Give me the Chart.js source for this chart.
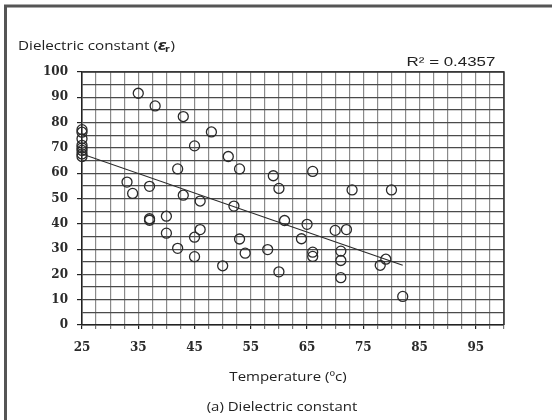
<!DOCTYPE html>
<html>
<head>
<meta charset="utf-8">
<script src="https://cdn.jsdelivr.net/npm/chart.js@4.4.1/dist/chart.umd.min.js"></script>
<style>
  html, body { margin: 0; padding: 0; background: #fff; }
  #wrap { width: 552px; height: 420px; position: relative; }
</style>
</head>
<body>
<div id="wrap"><canvas id="c" width="552" height="420"></canvas></div>
<script>
// Measured samples: temperature (°C) and dielectric constant
const temperature = [25, 25, 25, 25, 25, 25, 25, 25,
  33, 34, 35, 37, 37, 37, 38, 40, 40, 42, 42, 43, 43, 45, 45, 45, 46, 46,
  48, 50, 51, 52, 53, 53, 54, 58, 59, 60, 60, 61, 64, 65, 66, 66, 66,
  70, 71, 71, 71, 72, 73, 78, 79, 80, 82];
const dielectric = [77.2, 76.2, 73.6, 71.0, 70.0, 69.0, 67.6, 66.6,
  56.5, 52.0, 91.6, 54.8, 42.0, 41.4, 86.6, 43.0, 36.3, 61.7, 30.3, 82.4, 51.3, 70.8, 34.7, 27.0, 49.0, 37.7,
  76.3, 23.4, 66.6, 47.0, 61.7, 34.0, 28.4, 29.8, 59.0, 54.0, 21.0, 41.3, 34.1, 39.8, 60.7, 28.8, 27.1,
  37.4, 29.2, 25.5, 18.7, 37.7, 53.4, 23.6, 26.0, 53.4, 11.3];

// Linear trend line end points
const trendX = [25, 82];
const trendY = [67.6, 23.6];

// Axis tick settings
const xTickLabels = [25, 35, 45, 55, 65, 75, 85, 95];
const yTickLabels = [0, 10, 20, 30, 40, 50, 60, 70, 80, 90, 100];

const points = temperature.map((t, i) => ({ x: t, y: dielectric[i] }));
const trend = trendX.map((t, i) => ({ x: t, y: trendY[i] }));

// draw text with a horizontal stretch factor
function wideText(ctx, str, x, y, sx, align) {
  ctx.save();
  ctx.translate(x, y);
  ctx.scale(sx, 1);
  ctx.textAlign = align;
  ctx.fillText(str, 0, 0);
  ctx.restore();
}

const frameAndText = {
  id: 'frameAndText',
  beforeDraw(chart) {
    const ctx = chart.ctx;
    ctx.save();
    ctx.fillStyle = '#fff';
    ctx.fillRect(0, 0, chart.width, chart.height);
    ctx.restore();
  },
  afterDraw(chart) {
    const ctx = chart.ctx;
    const a = chart.chartArea;
    ctx.save();
    // outer frame (left and top edges)
    ctx.strokeStyle = '#555';
    ctx.lineWidth = 3;
    ctx.beginPath();
    ctx.moveTo(5.5, 420);
    ctx.lineTo(5.5, 6);
    ctx.lineTo(552, 6);
    ctx.stroke();
    // plot border top and right
    ctx.strokeStyle = '#333';
    ctx.lineWidth = 1.5;
    ctx.beginPath();
    ctx.moveTo(a.left, a.top);
    ctx.lineTo(a.right, a.top);
    ctx.lineTo(a.right, a.bottom);
    ctx.stroke();

    ctx.fillStyle = '#222';
    ctx.textBaseline = 'middle';
    const sx = 1.17;
    ctx.font = '13px "Open Sans"';
    const t1 = 'Dielectric constant (';
    wideText(ctx, t1, 18, 46, sx, 'left');
    let x = 18 + ctx.measureText(t1).width * sx;
    ctx.font = 'bold italic 14px "DejaVu Sans"';
    wideText(ctx, 'ε', x, 46, sx, 'left');
    x += ctx.measureText('ε').width * sx;
    ctx.font = 'bold 8px "DejaVu Sans"';
    wideText(ctx, 'r', x - 2, 50, sx, 'left');
    x += ctx.measureText('r').width * sx - 1;
    ctx.font = '13px "Open Sans"';
    wideText(ctx, ')', x, 46, sx, 'left');

    ctx.font = '13px "Liberation Sans"';
    wideText(ctx, 'R² = 0.4357', 451, 62, 1.3, 'center');

    ctx.font = '12.5px "Open Sans"';
    wideText(ctx, 'Temperature (ºc)', 288, 377, 1.2, 'center');
    wideText(ctx, '(a) Dielectric constant', 282, 407, 1.2, 'center');
    ctx.restore();
  }
};

new Chart(document.getElementById('c'), {
  type: 'scatter',
  data: {
    datasets: [
      {
        label: 'Dielectric constant',
        data: points,
        clip: false,
        pointStyle: 'circle',
        pointRadius: 5,
        pointHoverRadius: 5,
        backgroundColor: 'rgba(0,0,0,0)',
        borderColor: '#2a2a2a',
        borderWidth: 1.3
      },
      {
        type: 'line',
        label: 'Trend',
        data: trend,
        borderColor: '#2a2a2a',
        borderWidth: 1.2,
        pointRadius: 0,
        fill: false
      }
    ]
  },
  options: {
    responsive: false,
    animation: false,
    events: [],
    layout: { padding: { left: 0, top: 72, right: 48, bottom: 0 } },
    plugins: { legend: { display: false }, tooltip: { enabled: false }, title: { display: false } },
    scales: {
      x: {
        type: 'linear',
        min: 25, max: 100,
        afterFit(s) { s.height = 95; },
        afterBuildTicks(s) {
          const t = [];
          for (let v = 25; v <= 100; v += 2.5) t.push({ value: v });
          s.ticks = t;
        },
        ticks: {
          autoSkip: false,
          maxRotation: 0,
          padding: 12,
          color: '#2a2a2a',
          font: { family: '"DejaVu Serif"', size: 12, weight: 'bold' },
          callback: v => (xTickLabels.includes(v) ? String(v) : '')
        },
        grid: {
          color: ctx => (ctx.tick && ctx.tick.value === 25 ? '#222' : '#8a8a8a'),
          lineWidth: 1.2,
          tickLength: 4,
          tickColor: ctx => (ctx.tick && xTickLabels.includes(ctx.tick.value) ? '#222' : '#777')
        },
        border: { color: '#222', width: 1.5 }
      },
      y: {
        min: 0, max: 100,
        afterFit(s) { s.width = 82; },
        ticks: {
          stepSize: 5,
          autoSkip: false,
          padding: 9,
          color: '#2a2a2a',
          font: { family: '"DejaVu Serif"', size: 12, weight: 'bold' },
          callback: v => (yTickLabels.includes(v) ? String(v) : '')
        },
        grid: {
          color: '#4a4a4a',
          lineWidth: 1.2,
          tickLength: 5,
          tickColor: ctx => (ctx.tick && yTickLabels.includes(ctx.tick.value) ? '#222' : 'rgba(0,0,0,0)')
        },
        border: { color: '#222', width: 1.5 }
      }
    }
  },
  plugins: [frameAndText]
});
</script>
</body>
</html>
